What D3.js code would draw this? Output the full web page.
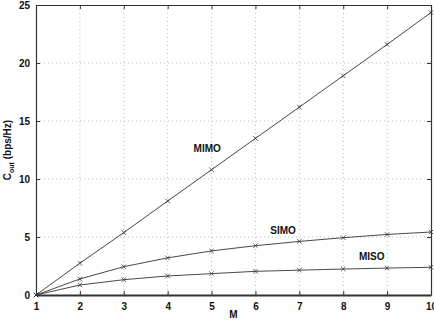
<!DOCTYPE html>
<html>
<head>
<meta charset="utf-8">
<script src="https://cdn.jsdelivr.net/npm/d3@7"></script>
<style>
body { margin: 0; background: #fff; }
text { font-family: "Liberation Sans", Arial, sans-serif; font-weight: bold; font-size: 10px; fill: #111; }
</style>
</head>
<body>
<svg></svg>
<script>
var width = 434;
var height = 322;
var margin = {left: 36, right: 3, top: 5, bottom: 27};

var mValues = [1, 2, 3, 4, 5, 6, 7, 8, 9, 10];
var mimo = [0, 2.74, 5.38, 8.1, 10.8, 13.5, 16.2, 18.9, 21.6, 24.35];
var simo = [0, 1.38, 2.44, 3.2, 3.8, 4.25, 4.62, 4.94, 5.22, 5.43];
var miso = [0, 0.86, 1.32, 1.64, 1.84, 2.04, 2.14, 2.24, 2.32, 2.39];
var xTicks = [1, 2, 3, 4, 5, 6, 7, 8, 9, 10];
var yTicks = [0, 5, 10, 15, 20, 25];

var series = [
  {name: "MIMO", values: mimo, lx: 4.9, ly: 12.6},
  {name: "SIMO", values: simo, lx: 6.63, ly: 5.6},
  {name: "MISO", values: miso, lx: 8.65, ly: 3.28}
];

var svg = d3.select("svg")
    .attr("width", width)
    .attr("height", height);

var xScale = d3.scaleLinear()
    .domain([1, 10])
    .range([margin.left, width - margin.right]);
var yScale = d3.scaleLinear()
    .domain([0, 25])
    .range([height - margin.bottom, margin.top]);

// dotted grid
svg.append("g")
    .selectAll("line")
    .data(xTicks.slice(1, -1))
    .enter()
    .append("line")
    .attr("x1", d => xScale(d)).attr("x2", d => xScale(d))
    .attr("y1", margin.top).attr("y2", height - margin.bottom)
    .attr("stroke", "#aaa").attr("stroke-width", 0.8)
    .attr("stroke-dasharray", "1,3");
svg.append("g")
    .selectAll("line")
    .data(yTicks.slice(1, -1))
    .enter()
    .append("line")
    .attr("y1", d => yScale(d)).attr("y2", d => yScale(d))
    .attr("x1", margin.left).attr("x2", width - margin.right)
    .attr("stroke", "#aaa").attr("stroke-width", 0.8)
    .attr("stroke-dasharray", "1,3");

// axes with inward ticks
var xAxis = d3.axisBottom(xScale).tickValues(xTicks).tickSize(-4).tickSizeOuter(0).tickPadding(8);
var yAxis = d3.axisLeft(yScale).tickValues(yTicks).tickSize(-4).tickSizeOuter(0).tickPadding(6);

var gx = svg.append("g")
    .attr("transform", `translate(0, ${height - margin.bottom})`)
    .call(xAxis);
var gy = svg.append("g")
    .attr("transform", `translate(${margin.left}, 0)`)
    .call(yAxis);
svg.append("g")
    .attr("transform", `translate(0, ${margin.top})`)
    .call(d3.axisTop(xScale).tickValues(xTicks).tickSize(-4).tickSizeOuter(0).tickFormat(""));
svg.append("g")
    .attr("transform", `translate(${width - margin.right}, 0)`)
    .call(d3.axisRight(yScale).tickValues(yTicks).tickSize(-4).tickSizeOuter(0).tickFormat(""));

svg.selectAll(".domain").attr("stroke", "#333").attr("stroke-width", 1.2);
svg.selectAll(".tick line").attr("stroke", "#333");
svg.selectAll(".tick text")
    .style("font-family", "'Liberation Sans', Arial, sans-serif")
    .style("font-weight", "bold")
    .style("font-size", "10px")
    .attr("fill", "#111");
gx.select(".domain").attr("stroke-width", 2);

// lines
var line = d3.line()
    .x((d, i) => xScale(mValues[i]))
    .y(d => yScale(d));

series.forEach(function(s) {
  svg.append("path")
      .datum(s.values)
      .attr("d", line)
      .attr("fill", "none")
      .attr("stroke", "#333")
      .attr("stroke-width", 0.9);

  var sz = 2.2;
  svg.append("g")
      .selectAll("path")
      .data(s.values)
      .enter()
      .append("path")
      .attr("d", (d, i) => {
        var cx = xScale(mValues[i]), cy = yScale(d);
        return `M${cx - sz},${cy - sz}L${cx + sz},${cy + sz}M${cx - sz},${cy + sz}L${cx + sz},${cy - sz}`;
      })
      .attr("stroke", "#333")
      .attr("stroke-width", 0.8);

  svg.append("text")
      .attr("x", xScale(s.lx))
      .attr("y", yScale(s.ly))
      .attr("text-anchor", "middle")
      .attr("dy", "0.35em")
      .text(s.name);
});

// axis labels
svg.append("text")
    .attr("x", xScale(5.5))
    .attr("y", 318)
    .attr("text-anchor", "middle")
    .text("M");

var yl = svg.append("text")
    .attr("transform", `translate(11, ${yScale(12.5)}) rotate(-90)`)
    .attr("text-anchor", "middle");
yl.append("tspan").text("C");
yl.append("tspan").attr("dy", 3).style("font-size", "7px").text("out");
yl.append("tspan").attr("dy", -3).text(" (bps/Hz)");
</script>
</body>
</html>
